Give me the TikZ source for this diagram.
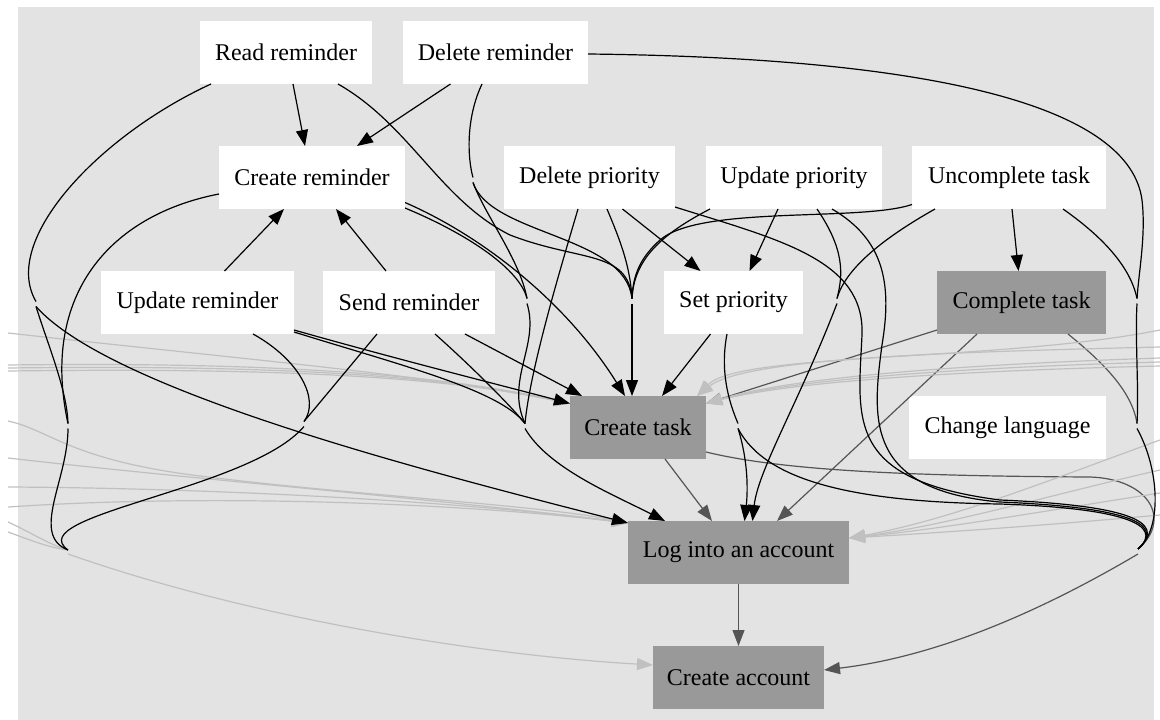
\documentclass[tikz,border=0pt]{standalone}
\usepackage{fontspec}
\setmainfont{Liberation Serif}
\usetikzlibrary{arrows.meta}

\definecolor{bgc}{RGB}{227,227,227}
\definecolor{nodegray}{RGB}{153,153,153}
\definecolor{darkedge}{RGB}{85,85,85}
\definecolor{lightedge}{RGB}{192,192,192}

\tikzset{
  box/.style={rectangle, minimum height=63pt, inner sep=0pt, outer sep=0pt,
              font=\fontsize{24}{28}\selectfont, text=black},
  wbox/.style={box, fill=white},
  gbox/.style={box, fill=nodegray},
  arr/.style={-{Triangle[length=16pt,width=12pt]}},
  k/.style={draw=black, line width=1.2pt},
  dg/.style={draw=darkedge, line width=1.2pt},
  lg/.style={draw=lightedge, line width=1.2pt},
}

\begin{document}
\begin{tikzpicture}[x=1pt, y=-1pt]
\useasboundingbox (0,0) rectangle (1160,720);
\fill[bgc] (18,7) rectangle (1154,720);

% feature nodes
\node[wbox, minimum width=172pt] (rr) at (286,52.5)   {Read reminder};
\node[wbox, minimum width=185pt] (dr) at (495.5,52.5) {Delete reminder};
\node[wbox, minimum width=186pt] (cr) at (312,177.5)  {Create reminder};
\node[wbox, minimum width=171pt] (dp) at (589.5,177.5) {Delete priority};
\node[wbox, minimum width=176pt] (up) at (794,177.5)  {Update priority};
\node[wbox, minimum width=194pt] (ut) at (1009,177.5) {Uncomplete task};
\node[wbox, minimum width=193pt] (ur) at (197.5,302.5) {Update reminder};
\node[wbox, minimum width=172pt] (sr) at (409,302.5)  {Send reminder};
\node[wbox, minimum width=139pt] (sp) at (733.5,302.5) {Set priority};
\node[gbox, minimum width=169pt] (ct) at (1021.5,302.5) {Complete task};
\node[gbox, minimum width=136pt] (tk) at (638,427.5)  {Create task};
\node[wbox, minimum width=197pt] (cl) at (1007.5,427.5) {Change language};
\node[gbox, minimum width=221pt] (li) at (738.5,552.5) {Log into an account};
\node[gbox, minimum width=171pt] (ca) at (738.5,677.5) {Create account};

% merge points of bundled edges
\coordinate (jL1) at (36,304);
\coordinate (jL2) at (68,426);
\coordinate (jL3) at (68,551);
\coordinate (jU)  at (304,424);
\coordinate (jD)  at (473,180);
\coordinate (jC1) at (527,301);
\coordinate (jC2) at (525,426);
\coordinate (jB)  at (632,301);
\coordinate (jS)  at (738,426);
\coordinate (jP)  at (837,301);
\coordinate (jR1) at (1137,301);
\coordinate (jR2) at (1137,426);
\coordinate (jR3) at (1138,551);

% loose ends of edges coming from outside
\coordinate (wa) at (8,333);
\coordinate (wb) at (8,365);
\coordinate (wc) at (8,368);
\coordinate (wd) at (8,371);
\coordinate (we) at (8,421);
\coordinate (wf) at (8,458);
\coordinate (wg) at (8,487);
\coordinate (wh) at (8,507);
\coordinate (wi) at (8,522);
\coordinate (wj) at (8,532);
\coordinate (ea) at (1160,330);
\coordinate (eb) at (1160,347);
\coordinate (ec) at (1160,358);
\coordinate (ed) at (1160,362);
\coordinate (ee) at (1160,366);
\coordinate (ef) at (1160,440);
\coordinate (eg) at (1160,470);
\coordinate (eh) at (1160,493);
\coordinate (ei) at (1160,515);

% dark grey edges
\draw[dg,arr] ([xshift=27pt]tk.south) -- ([xshift=-26.5pt]li.north);
\draw[dg,arr] (li.south) -- (ca.north);
\draw[dg,arr] ([xshift=-44.5pt]ct.south) -- ([xshift=38.5pt]li.north);
\draw[dg,arr] ([yshift=-27.5pt]ct.west) -- ([yshift=24pt]tk.east);
\draw[dg] ([xshift=46.5pt]ct.south) .. controls (1100,360) and (1132,390) .. ([yshift=2.5pt]jR2);
\draw[dg] ([yshift=-24.5pt]tk.east) .. controls (780,470) and (900,476) .. (1090,477)
          .. controls (1150,479) and (1172,520) .. ([yshift=2pt]jR3);
\draw[dg,arr] ([yshift=-3pt]jR3) .. controls (1060,600) and (950,655) .. ([yshift=7.5pt]ca.east);

% light grey edges
\draw[lg,arr] (wa) .. controls (250,360) and (430,375) .. ([yshift=24pt]tk.west);
\draw[lg,arr] (wb) .. controls (250,362) and (430,372) .. ([yshift=24pt]tk.west);
\draw[lg,arr] (wc) .. controls (250,365) and (430,373) .. ([yshift=24pt]tk.west);
\draw[lg,arr] (wd) .. controls (250,368) and (430,374) .. ([yshift=24pt]tk.west);
\draw[lg,arr] (we) .. controls (50,430) and (70,460) .. (200,476)
              .. controls (350,495) and (540,505) .. ([yshift=-2pt]li.north west);
\draw[lg,arr] (wf) .. controls (200,480) and (450,500) .. ([yshift=-2pt]li.north west);
\draw[lg,arr] (wg) .. controls (200,488) and (450,500) .. ([yshift=-2pt]li.north west);
\draw[lg,arr] (wh) .. controls (200,494) and (450,502) .. ([yshift=-2pt]li.north west);
\draw[lg] (wi) .. controls (30,532) and (50,545) .. ([yshift=1pt]jL3);
\draw[lg] (wj) .. controls (30,540) and (50,548) .. ([yshift=1pt]jL3);
\draw[lg,arr] ([yshift=-3pt]jL3) .. controls (250,618) and (480,655) .. ([yshift=12.5pt]ca.west);
\draw[lg,arr] (ea) .. controls (1000,362) and (740,352) .. ([xshift=-9pt]tk.north east);
\draw[lg,arr] (eb) .. controls (950,352) and (745,358) .. ([xshift=-9pt]tk.north east);
\draw[lg,arr] (ec) .. controls (950,365) and (790,378) .. ([yshift=24pt]tk.east);
\draw[lg,arr] (ed) .. controls (950,368) and (790,380) .. ([yshift=24pt]tk.east);
\draw[lg,arr] (ee) .. controls (950,371) and (790,382) .. ([yshift=24pt]tk.east);
\draw[lg,arr] (ef) .. controls (1050,480) and (950,520) .. ([yshift=14.5pt]li.east);
\draw[lg,arr] (eg) .. controls (1050,495) and (950,525) .. ([yshift=14.5pt]li.east);
\draw[lg,arr] (eh) .. controls (1050,510) and (950,528) .. ([yshift=14.5pt]li.east);
\draw[lg,arr] (ei) .. controls (1050,525) and (950,532) .. ([yshift=14.5pt]li.east);

% black edges: direct dependencies
\draw[k,arr] ([xshift=7pt]rr.south) -- ([xshift=-7pt]cr.north);
\draw[k,arr] ([xshift=-45pt]dr.south) -- ([xshift=45pt]cr.north);
\draw[k,arr] ([xshift=27pt]ur.north) -- ([xshift=-28pt]cr.south);
\draw[k,arr] ([xshift=-23pt]sr.north) -- ([xshift=24pt]cr.south);
\draw[k,arr] ([xshift=33pt]dp.south) -- ([xshift=-33pt]sp.north);
\draw[k,arr] ([xshift=-16pt]up.south) -- ([xshift=16pt]sp.north);
\draw[k,arr] ([xshift=3pt]ut.south) -- ([xshift=-3pt]ct.north);
\draw[k,arr] ([xshift=-23pt]sp.south) -- ([xshift=24pt]tk.north);
\draw[k,arr] ([yshift=-25pt]cr.east) .. controls (480,235) and (565,300) .. ([xshift=-13pt]tk.north);
\draw[k,arr] ([xshift=56pt]sr.south) -- ([xshift=-56pt]tk.north);
\draw[k,arr] ([yshift=-27.5pt]ur.east) .. controls (400,360) and (500,385) .. ([yshift=24pt]tk.west);

% black edges: left bundle
\draw[k] ([xshift=-75pt]rr.south) .. controls (100,135) and (0,240) .. ([yshift=2.5pt]jL1);
\draw[k,arr] ([yshift=-2.5pt]jL1) .. controls (110,390) and (420,470) .. ([yshift=-2pt]li.north west);
\draw[k] ([yshift=-2.5pt]jL1) .. controls (48,345) and (67,390) .. ([yshift=2.5pt]jL2);
\draw[k] ([yshift=-16.5pt]cr.west) .. controls (110,215) and (40,295) .. ([yshift=2.5pt]jL2);
\draw[k] ([yshift=-2.5pt]jL2) .. controls (68,480) and (30,535) .. ([yshift=1pt]jL3);
\draw[k] ([xshift=55.5pt]ur.south) .. controls (300,360) and (320,400) .. ([yshift=2.5pt]jU);
\draw[k] ([xshift=-32pt]sr.south) -- ([yshift=2.5pt]jU);
\draw[k] ([yshift=-2.5pt]jU) .. controls (250,490) and (20,515) .. ([yshift=1pt]jL3);

% black edges: centre bundles
\draw[k] ([xshift=-13.5pt]dr.south) .. controls (465,120) and (468,160) .. ([yshift=2.5pt]jD);
\draw[k] ([yshift=-2.5pt]jD) .. controls (485,215) and (520,260) .. ([yshift=2.5pt]jC1);
\draw[k] ([yshift=-2.5pt]jD) .. controls (490,235) and (625,235) .. ([yshift=2.5pt]jB);
\draw[k] ([xshift=52pt]rr.south) .. controls (410,125) and (440,200) .. (510,235)
         .. controls (580,262) and (628,250) .. ([yshift=2.5pt]jB);
\draw[k] ([xshift=17.5pt]dp.south) .. controls (620,240) and (630,265) .. ([yshift=2.5pt]jB);
\draw[k] ([xshift=-84pt]up.south) .. controls (660,235) and (634,260) .. ([yshift=2.5pt]jB);
\draw[k] ([yshift=-27pt]ut.west) .. controls (860,222) and (700,205) .. (660,240)
         .. controls (640,258) and (633,275) .. ([yshift=2.5pt]jB);
\draw[k,arr] ([yshift=-2.5pt]jB) -- ([xshift=-6pt]tk.north);
\draw[k] ([yshift=-30.5pt]cr.east) .. controls (470,235) and (520,270) .. ([yshift=2.5pt]jC1);
\draw[k] ([yshift=-2.5pt]jC1) .. controls (540,345) and (505,380) .. ([yshift=2.5pt]jC2);
\draw[k] ([xshift=-11.5pt]dp.south) .. controls (560,270) and (530,370) .. ([yshift=2.5pt]jC2);
\draw[k] ([xshift=26pt]sr.south) .. controls (470,365) and (510,405) .. ([yshift=2.5pt]jC2);
\draw[k] ([yshift=-29.5pt]ur.east) .. controls (400,365) and (500,390) .. ([yshift=2.5pt]jC2);
\draw[k,arr] ([yshift=-2.5pt]jC2) .. controls (548,468) and (612,494) .. ([xshift=-73.5pt]li.north);
\draw[k] ([xshift=23pt]up.south) .. controls (845,250) and (843,275) .. ([yshift=2.5pt]jP);
\draw[k] ([xshift=-74pt]ut.south) .. controls (880,240) and (845,270) .. ([yshift=2.5pt]jP);
\draw[k,arr] ([yshift=-2.5pt]jP) .. controls (800,400) and (758,470) .. ([xshift=14pt]li.north);
\draw[k] ([xshift=-6.5pt]sp.south) .. controls (720,370) and (728,400) .. ([yshift=2.5pt]jS);
\draw[k,arr] ([yshift=-2.5pt]jS) .. controls (748,460) and (748,490) .. ([xshift=6pt]li.north);

% black edges: right bundle
\draw[k] ([yshift=-29.5pt]dp.east) .. controls (780,240) and (865,260) .. (862,335)
         .. controls (858,420) and (845,480) .. (1000,500)
         .. controls (1120,505) and (1170,520) .. ([yshift=2pt]jR3);
\draw[k] ([xshift=38pt]up.south) .. controls (885,240) and (892,285) .. (882,345)
         .. controls (872,420) and (865,490) .. (1000,502)
         .. controls (1120,507) and (1168,522) .. ([yshift=2pt]jR3);
\draw[k] ([yshift=-2.5pt]jS) .. controls (765,480) and (850,502) .. (1000,504)
         .. controls (1120,508) and (1166,524) .. ([yshift=2pt]jR3);
\draw[k] ([yshift=-1.5pt]dr.east) .. controls (950,58) and (1130,110) .. (1142,200)
         .. controls (1146,235) and (1139,270) .. ([yshift=2.5pt]jR1);
\draw[k] ([xshift=54pt]ut.south) .. controls (1100,235) and (1130,265) .. ([yshift=2.5pt]jR1);
\draw[k] ([yshift=-2.5pt]jR1) .. controls (1135,340) and (1139,390) .. ([yshift=2.5pt]jR2);
\draw[k] ([yshift=-2.5pt]jR2) .. controls (1160,470) and (1162,530) .. ([yshift=2pt]jR3);
\end{tikzpicture}
\end{document}
